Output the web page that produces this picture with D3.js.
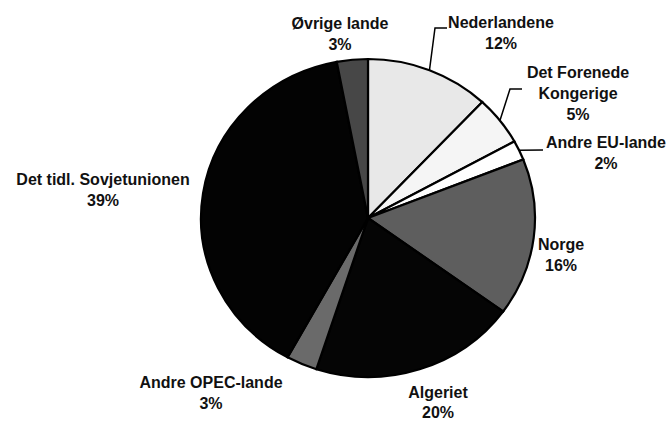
<!DOCTYPE html>
<meta charset="utf-8">
<style>
body { margin: 0; background: #fff; }
text { font-family: "Liberation Sans", Arial, sans-serif; font-size: 16px; font-weight: bold; fill: #111; }
</style>
<body>
<svg id="chart" width="669" height="421"></svg>
<script src="https://cdn.jsdelivr.net/npm/d3@7"></script>
<script>

// clockwise from 12 o'clock
var countries = ["Nederlandene", "Det Forenede Kongerige", "Andre EU-lande", "Norge",
                 "Algeriet", "Andre OPEC-lande", "Det tidl. Sovjetunionen", "Øvrige lande"];
var shares = [12, 5, 2, 16, 20, 3, 39, 3];
var labelLines = [["Nederlandene"], ["Det Forenede", "Kongerige"], ["Andre EU-lande"], ["Norge"],
                  ["Algeriet"], ["Andre OPEC-lande"], ["Det tidl. Sovjetunionen"], ["Øvrige lande"]];

var fills = ["#e8e8e8", "#f5f5f5", "#ffffff", "#5e5e5e", "#050505", "#6a6a6a", "#030303", "#474747"];

// label anchor (centre x, first baseline) for each slice
var labelPos = [[501, 28], [578, 78], [606, 148], [561, 250], [438, 398], [211, 388], [103, 185], [340, 29]];

var svg = d3.select("#chart"),
    cx = 368, cy = 218, rx = 167, ry = 159;

var data = countries.map(function(c, i) { return {name: c, value: shares[i], i: i}; });

var pie = d3.pie().sort(null).value(function(d) { return d.value; });
var arcs = pie(data);

var arc = d3.arc().innerRadius(0).outerRadius(ry);

var g = svg.append("g")
    .attr("transform", "translate(" + cx + "," + cy + ") scale(" + (rx / ry) + ",1)");

g.selectAll("path")
    .data(arcs)
  .enter().append("path")
    .attr("d", arc)
    .attr("fill", function(d) { return fills[d.data.i]; })
    .attr("stroke", "#000")
    .attr("stroke-width", 2.2)
    .attr("vector-effect", "non-scaling-stroke");

// point on the rim at a slice's middle angle
function rim(d) {
  var a = (d.startAngle + d.endAngle) / 2;
  return [cx + rx * Math.sin(a), cy - ry * Math.cos(a)];
}

// leader lines for the three small slices at top right
var leaders = [
  [rim(arcs[0]), [435, 28], [447, 28]],
  [rim(arcs[1]), [510, 89], [522, 89]],
  [rim(arcs[2]), [543, 150]]
];
svg.selectAll(".leader")
    .data(leaders)
  .enter().append("polyline")
    .attr("class", "leader")
    .attr("points", function(p) { return p.map(function(q) { return q.join(","); }).join(" "); })
    .attr("fill", "none")
    .attr("stroke", "#000")
    .attr("stroke-width", 1.5);

var lab = svg.selectAll(".label")
    .data(arcs)
  .enter().append("text")
    .attr("class", "label")
    .attr("text-anchor", "middle")
    .attr("x", function(d) { return labelPos[d.data.i][0]; })
    .attr("y", function(d) { return labelPos[d.data.i][1]; });

lab.each(function(d) {
  var t = d3.select(this),
      lines = labelLines[d.data.i].concat([d.data.value + "%"]);
  lines.forEach(function(s, k) {
    t.append("tspan")
      .attr("x", labelPos[d.data.i][0])
      .attr("dy", k === 0 ? 0 : (d.data.i === 4 ? 20 : 21))
      .text(s);
  });
});

</script>
</body>
